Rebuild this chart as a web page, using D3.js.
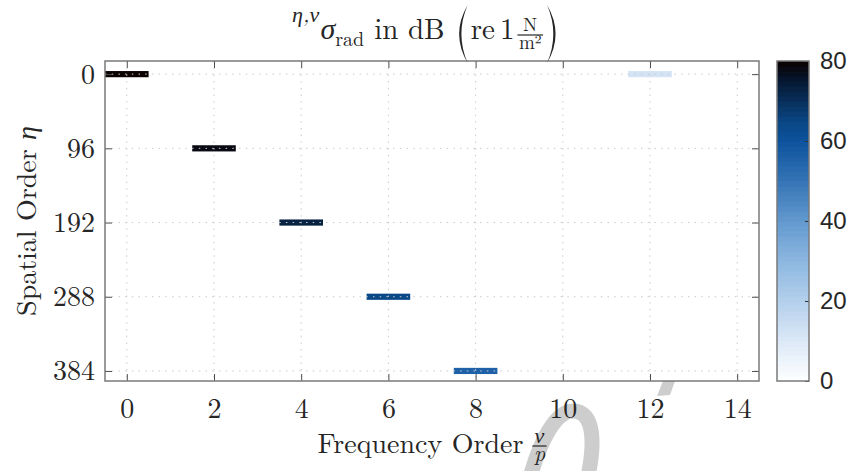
<!DOCTYPE html>
<html>
<head>
<meta charset="utf-8">
<script src="https://cdn.jsdelivr.net/npm/d3@7"></script>
<style>
  body { margin: 0; background: #fff; }
  svg { display: block; }
</style>
</head>
<body>
<div id="chart"></div>
<script>
// values
const freq_orders = [0, 2, 4, 6, 8, 12];          // nu / p
const spatial_orders = [0, 96, 192, 288, 384, 0]; // eta
const sigma_db = [80, 78, 73, 64, 56, 12];         // dB re 1 N/m^2

const x_ticks = [0, 2, 4, 6, 8, 10, 12, 14];
const y_ticks = [0, 96, 192, 288, 384];
const c_ticks = [0, 20, 40, 60, 80];

// colormap stops (white -> blue -> black)
const cmap_values = [0, 10, 20, 30, 40, 50, 60, 65, 70, 75, 80];
const cmap_colors = ["#ffffff", "#dce9f7", "#b3cfec", "#8db7e0", "#6299cf", "#3574b5", "#0c539d", "#0a4684", "#082f5a", "#051832", "#0a0000"];

const width = 850;
const height = 471;
const margin_left = 105;
const margin_right = 759;
const margin_top = 61;
const margin_bottom = 381;
const bar_half = 4; // eta units

const serif = "'Latin Modern Roman', 'CMU Serif', 'Liberation Serif', serif";
const sans = "'Liberation Sans', Arial, sans-serif";
const grid_color = "#c9c9c9";
const axis_color = "#7a7a7a";
const text_color = "#262626";

const svg = d3.select("#chart").append("svg")
    .attr("width", width)
    .attr("height", height);

// watermark behind everything (only a piece of it shows under the axes)
const mark = svg.append("g");
mark.append("path")
    .attr("d", "M527,489 C539,440 556,411 573,411 C594,411 597,442 585,489")
    .attr("fill", "none")
    .attr("stroke", "#cdcdcd")
    .attr("stroke-width", 15);
mark.append("path")
    .attr("d", "M663,381 L675,381 L670,395 L657,396 Z")
    .attr("fill", "#cdcdcd");

const xScale = d3.scaleLinear().domain([-0.5, 14.5]).range([margin_left, margin_right]);
const yScale = d3.scaleLinear().domain([-17, 397]).range([margin_top, margin_bottom]);

const cmap = d3.scaleLinear().domain(cmap_values).range(cmap_colors).clamp(true);
// stepped like a 64 entry colormap
const n_levels = 64;
const color_of = v => cmap(Math.min(79.99, Math.floor(v / 80 * n_levels) * 80 / n_levels + 80 / n_levels / 2));

// plot background
svg.append("rect")
    .attr("x", margin_left).attr("y", margin_top)
    .attr("width", margin_right - margin_left).attr("height", margin_bottom - margin_top)
    .attr("fill", "#fff");

// cells
svg.append("g").selectAll("rect")
    .data(freq_orders.map((f, i) => ({f: f, e: spatial_orders[i], v: sigma_db[i]})))
    .join("rect")
    .attr("x", d => xScale(d.f - 0.5))
    .attr("y", d => yScale(d.e - bar_half))
    .attr("width", d => xScale(d.f + 0.5) - xScale(d.f - 0.5))
    .attr("height", d => yScale(d.e + bar_half) - yScale(d.e - bar_half))
    .attr("fill", d => color_of(d.v));

// grid on top
const grid = svg.append("g")
    .attr("stroke", grid_color)
    .attr("stroke-width", 1)
    .attr("stroke-dasharray", "1.5,5.2");
grid.selectAll(".gx").data(x_ticks).join("line")
    .attr("x1", d => xScale(d)).attr("x2", d => xScale(d))
    .attr("y1", margin_top).attr("y2", margin_bottom);
grid.selectAll(".gy").data(y_ticks).join("line")
    .attr("y1", d => yScale(d)).attr("y2", d => yScale(d))
    .attr("x1", margin_left).attr("x2", margin_right);

// axes (ticks inward)
const tick_len = 7;
const xAxisB = svg.append("g")
    .attr("transform", `translate(0,${margin_bottom})`)
    .call(d3.axisBottom(xScale).tickValues(x_ticks).tickSize(-tick_len).tickPadding(17));
const xAxisT = svg.append("g")
    .attr("transform", `translate(0,${margin_top})`)
    .call(d3.axisTop(xScale).tickValues(x_ticks).tickSize(-tick_len).tickFormat(""));
const yAxisL = svg.append("g")
    .attr("transform", `translate(${margin_left},0)`)
    .call(d3.axisLeft(yScale).tickValues(y_ticks).tickSize(-tick_len).tickPadding(10));
const yAxisR = svg.append("g")
    .attr("transform", `translate(${margin_right},0)`)
    .call(d3.axisRight(yScale).tickValues(y_ticks).tickSize(-tick_len).tickFormat(""));

[xAxisB, xAxisT, yAxisL, yAxisR].forEach(a => {
    a.select(".domain").remove();
    a.selectAll(".tick line").attr("stroke", "#4d4d4d");
    a.selectAll("text").attr("font-family", serif).attr("font-size", 28).attr("fill", text_color);
});
xAxisB.selectAll("text").attr("dy", "0.71em");

svg.append("rect")
    .attr("x", margin_left).attr("y", margin_top)
    .attr("width", margin_right - margin_left).attr("height", margin_bottom - margin_top)
    .attr("fill", "none").attr("stroke", axis_color).attr("stroke-width", 1.5);

// colorbar
const cb_left = 777, cb_right = 809;
const cScale = d3.scaleLinear().domain([0, 80]).range([margin_bottom, margin_top]);
const levels = d3.range(n_levels);
svg.append("g").selectAll("rect")
    .data(levels)
    .join("rect")
    .attr("x", cb_left)
    .attr("width", cb_right - cb_left)
    .attr("y", d => cScale((d + 1) * 80 / n_levels))
    .attr("height", d => cScale(d * 80 / n_levels) - cScale((d + 1) * 80 / n_levels) + 0.5)
    .attr("fill", d => color_of(d * 80 / n_levels + 0.01));
const cAxis = svg.append("g")
    .attr("transform", `translate(${cb_right},0)`)
    .call(d3.axisRight(cScale).tickValues(c_ticks).tickSize(-4).tickPadding(11));
cAxis.select(".domain").remove();
cAxis.selectAll(".tick line").attr("stroke", "#333");
cAxis.selectAll("text").attr("font-family", sans).attr("font-size", 24).attr("fill", text_color);
svg.append("rect")
    .attr("x", cb_left).attr("y", margin_top)
    .attr("width", cb_right - cb_left).attr("height", margin_bottom - margin_top)
    .attr("fill", "none").attr("stroke", axis_color).attr("stroke-width", 1.5);

// helpers to lay out math-like text pieces
function piece(g, x, y, str, size, style) {
    const t = g.append("text")
        .attr("x", x).attr("y", y)
        .attr("font-family", serif)
        .attr("font-size", size)
        .attr("font-style", style || "normal")
        .attr("fill", text_color)
        .text(str);
    return t.node().getComputedTextLength();
}
// tall thin delimiter drawn as a crescent
function paren(g, x, top, bottom, side) {
    const mid = (top + bottom) / 2;
    const w = 13;
    const tip = side < 0 ? x + w - 2 : x + 2;
    const outer = side < 0 ? x - 6 : x + w + 6;
    const inner = side < 0 ? x - 1.5 : x + w + 1.5;
    g.append("path")
        .attr("d", `M${tip},${top} Q${outer},${mid} ${tip},${bottom} Q${inner},${mid} ${tip},${top} Z`)
        .attr("fill", text_color);
    return w;
}
function fraction(g, x, yline, num, den, size, style, gap_num, gap_den) {
    const a = g.append("text").attr("font-family", serif).attr("font-size", size)
        .attr("font-style", style || "normal").attr("fill", text_color)
        .attr("text-anchor", "middle").text(num);
    const b = g.append("text").attr("font-family", serif).attr("font-size", size)
        .attr("font-style", style || "normal").attr("fill", text_color)
        .attr("text-anchor", "middle").text(den);
    const w = Math.max(a.node().getComputedTextLength(), b.node().getComputedTextLength()) + 3;
    a.attr("x", x + w / 2).attr("y", yline - gap_num);
    b.attr("x", x + w / 2).attr("y", yline + gap_den);
    g.append("line").attr("x1", x).attr("x2", x + w)
        .attr("y1", yline).attr("y2", yline)
        .attr("stroke", text_color).attr("stroke-width", 1.2);
    return w;
}

// title
const title = svg.append("g");
let tx = 0;
const base = 39;
tx += piece(title, tx, 22, "η,ν", 22, "italic") + 1;
tx += piece(title, tx, base, "σ", 30, "italic");
tx += piece(title, tx, 46, "rad", 20) + 10;
tx += piece(title, tx, base, "in dB", 29) + 12;
tx += paren(title, tx, 5, 63, -1) + 1;
tx += piece(title, tx, base, "re", 29) + 5;
tx += piece(title, tx, base, "1", 29) + 3;
tx += fraction(title, tx, 35, "N", "m²", 19, "normal", 4, 14) + 2;
tx += paren(title, tx, 5, 63, 1);
title.attr("transform", `translate(${425 - tx / 2},0)`);

// x label
const xlab = svg.append("g");
let lx = 0;
const xbase = 453;
lx += piece(xlab, lx, xbase, "Frequency Order", 28) + 9;
lx += fraction(xlab, lx, xbase - 7, "ν", "p", 22, "italic", 3, 15);
xlab.attr("transform", `translate(${(margin_left + margin_right) / 2 - lx / 2},0)`);

// y label
svg.append("text")
    .attr("transform", `translate(36,${(margin_top + margin_bottom) / 2}) rotate(-90)`)
    .attr("text-anchor", "middle")
    .attr("font-family", serif)
    .attr("font-size", 28)
    .attr("fill", text_color)
    .text("Spatial Order ")
    .append("tspan").attr("font-style", "italic").text("η");
</script>
</body>
</html>
